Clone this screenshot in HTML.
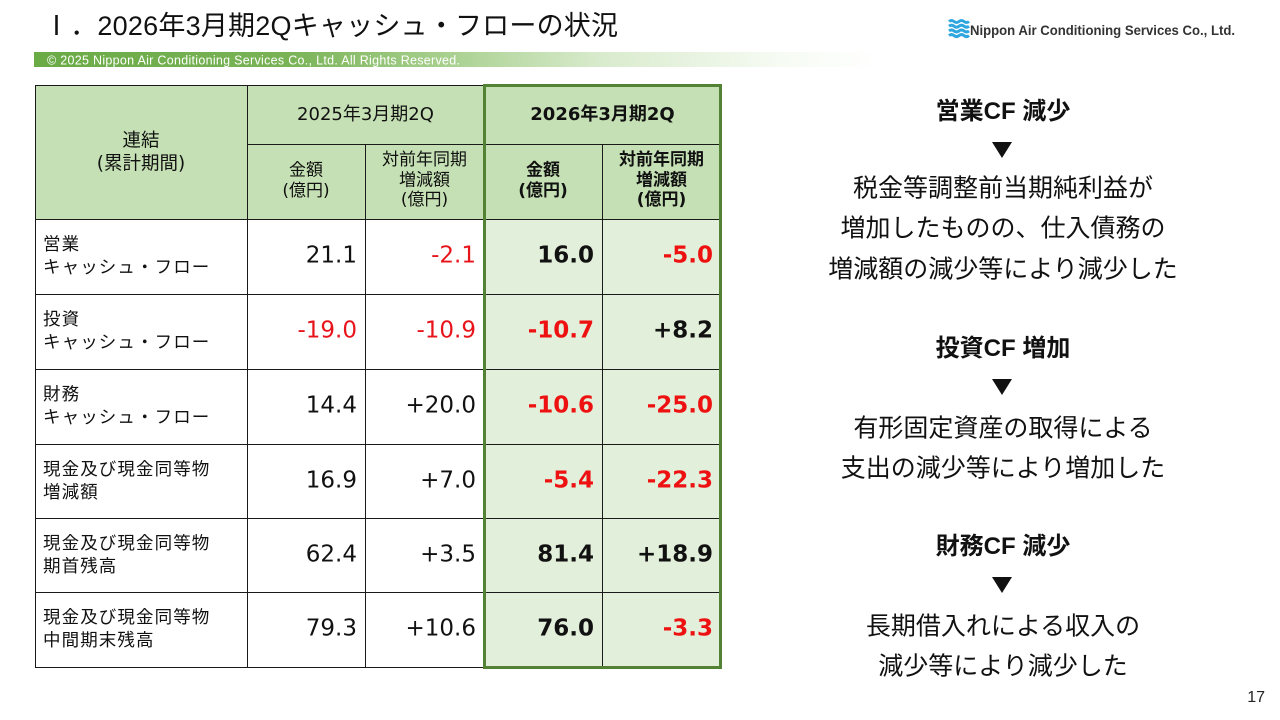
<!DOCTYPE html>
<html>
<head>
<meta charset="utf-8">
<style>
  html, body { margin:0; padding:0; background:#fff; }
  svg { display:block; }
  .jp { font-family: "Liberation Sans", "Noto Sans CJK JP", sans-serif; }
  .num { font-family: "DejaVu Sans", "Liberation Sans", sans-serif; font-size:23px; }
  .hd { font-family: "DejaVu Sans", "Noto Sans CJK JP", sans-serif; font-size:17px; }
</style>
</head>
<body>
<svg width="1280" height="720" viewBox="0 0 1280 720" xmlns="http://www.w3.org/2000/svg">
  <defs>
    <linearGradient id="bar" x1="34" y1="0" x2="880" y2="0" gradientUnits="userSpaceOnUse">
      <stop offset="0" stop-color="#6aab46"/>
      <stop offset="0.30" stop-color="#79b356"/>
      <stop offset="0.48" stop-color="#a6cf8c"/>
      <stop offset="0.67" stop-color="#d9ebcd"/>
      <stop offset="0.88" stop-color="#f6fbf3"/>
      <stop offset="1" stop-color="#ffffff"/>
    </linearGradient>
  </defs>

  <!-- Title -->
  <text x="43" y="35" font-size="27" fill="#111" class="jp" textLength="575"><tspan font-family="'Noto Sans CJK JP', sans-serif">Ⅰ．</tspan>2026年3月期2Qキャッシュ・フローの状況</text>

  <!-- Copyright bar -->
  <rect x="34" y="52" width="846" height="15" fill="url(#bar)"/>
  <text x="47" y="64.5" font-family="'Liberation Sans', sans-serif" font-size="12.5" fill="#ffffff" textLength="413">© 2025 Nippon Air Conditioning Services Co., Ltd. All Rights Reserved.</text>

  <!-- Logo -->
  <g fill="none" stroke="#2ea6df" stroke-width="3">
    <path d="M949,21.5 q2.5,-2 5,0 t5,0 t5,0 t5,0"/>
    <path d="M949,26.2 q2.5,-2 5,0 t5,0 t5,0 t5,0"/>
    <path d="M949,30.9 q2.5,-2 5,0 t5,0 t5,0 t5,0"/>
    <path d="M949,35.6 q2.5,-2 5,0 t5,0 t5,0 t5,0"/>
  </g>
  <text x="970" y="35" font-family="'Liberation Sans', sans-serif" font-weight="bold" font-size="14" fill="#333" textLength="265" lengthAdjust="spacingAndGlyphs">Nippon Air Conditioning Services Co., Ltd.</text>

  <!-- Table fills -->
  <rect x="35" y="85" width="686" height="134" fill="#c5e0b4"/>
  <rect x="484" y="219" width="237" height="448" fill="#e2efda"/>

  <!-- Table lines -->
  <g stroke="#1a1a1a" stroke-width="1">
    <line x1="35" y1="85.5" x2="484" y2="85.5"/>
    <line x1="247" y1="144.5" x2="721" y2="144.5"/>
    <line x1="35" y1="219.5" x2="721" y2="219.5"/>
    <line x1="35" y1="294.5" x2="721" y2="294.5"/>
    <line x1="35" y1="369.5" x2="721" y2="369.5"/>
    <line x1="35" y1="444.5" x2="721" y2="444.5"/>
    <line x1="35" y1="518.5" x2="721" y2="518.5"/>
    <line x1="35" y1="592.5" x2="721" y2="592.5"/>
    <line x1="35" y1="667.5" x2="721" y2="667.5"/>
    <line x1="35.5" y1="85" x2="35.5" y2="668"/>
    <line x1="247.5" y1="85" x2="247.5" y2="668"/>
    <line x1="365.5" y1="144" x2="365.5" y2="668"/>
    <line x1="602.5" y1="144" x2="602.5" y2="668"/>
  </g>
  <rect x="484.5" y="85.5" width="236" height="582" fill="none" stroke="#548235" stroke-width="3"/>

  <!-- Header text -->
  <g class="hd" fill="#111" text-anchor="middle">
    <text x="141" y="146.5" font-size="18.5">連結</text>
    <text x="141" y="169.5" font-size="18.5">(累計期間)</text>
    <text x="365.5" y="120" font-size="18">2025年3月期2Q</text>
    <text x="306" y="175.5">金額</text>
    <text x="306" y="196">(億円)</text>
    <text x="424.5" y="165">対前年同期</text>
    <text x="424.5" y="185.5">増減額</text>
    <text x="424.5" y="205">(億円)</text>
  </g>
  <g class="hd" fill="#111" text-anchor="middle" font-weight="bold">
    <text x="602.5" y="120" font-size="18">2026年3月期2Q</text>
    <text x="543" y="175.5">金額</text>
    <text x="543" y="196">(億円)</text>
    <text x="661.5" y="165">対前年同期</text>
    <text x="661.5" y="185.5">増減額</text>
    <text x="661.5" y="205">(億円)</text>
  </g>

  <!-- Row labels -->
  <g class="jp" font-size="17.5" fill="#111" letter-spacing="1.1">
    <text x="43" y="250">営業</text>
    <text x="43" y="273">キャッシュ・フロー</text>
    <text x="43" y="325">投資</text>
    <text x="43" y="348">キャッシュ・フロー</text>
    <text x="43" y="400">財務</text>
    <text x="43" y="423">キャッシュ・フロー</text>
    <text x="43" y="475">現金及び現金同等物</text>
    <text x="43" y="498">増減額</text>
    <text x="43" y="549">現金及び現金同等物</text>
    <text x="43" y="572">期首残高</text>
    <text x="43" y="623">現金及び現金同等物</text>
    <text x="43" y="646">中間期末残高</text>
  </g>

  <!-- Numbers: 2025 columns -->
  <g class="num" text-anchor="end">
    <text x="357" y="262.5" fill="#111">21.1</text>
    <text x="476" y="262.5" fill="#e8141c">-2.1</text>
    <text x="357" y="337.5" fill="#e8141c">-19.0</text>
    <text x="476" y="337.5" fill="#e8141c">-10.9</text>
    <text x="357" y="412.5" fill="#111">14.4</text>
    <text x="476" y="412.5" fill="#111">+20.0</text>
    <text x="357" y="487.5" fill="#111">16.9</text>
    <text x="476" y="487.5" fill="#111">+7.0</text>
    <text x="357" y="561.5" fill="#111">62.4</text>
    <text x="476" y="561.5" fill="#111">+3.5</text>
    <text x="357" y="635.5" fill="#111">79.3</text>
    <text x="476" y="635.5" fill="#111">+10.6</text>
  </g>
  <!-- Numbers: 2026 columns (bold) -->
  <g class="num" text-anchor="end" font-weight="bold">
    <text x="594" y="262.5" fill="#111">16.0</text>
    <text x="713" y="262.5" fill="#ee1111">-5.0</text>
    <text x="594" y="337.5" fill="#ee1111">-10.7</text>
    <text x="713" y="337.5" fill="#111">+8.2</text>
    <text x="594" y="412.5" fill="#ee1111">-10.6</text>
    <text x="713" y="412.5" fill="#ee1111">-25.0</text>
    <text x="594" y="487.5" fill="#ee1111">-5.4</text>
    <text x="713" y="487.5" fill="#ee1111">-22.3</text>
    <text x="594" y="561.5" fill="#111">81.4</text>
    <text x="713" y="561.5" fill="#111">+18.9</text>
    <text x="594" y="635.5" fill="#111">76.0</text>
    <text x="713" y="635.5" fill="#ee1111">-3.3</text>
  </g>

  <!-- Right side commentary -->
  <g class="jp" fill="#111" text-anchor="middle">
    <text x="1003" y="119" font-size="24" font-weight="bold">営業CF 減少</text>
    <text x="1003" y="196.5" font-size="25">税金等調整前当期純利益が</text>
    <text x="1003" y="236.5" font-size="25">増加したものの、仕入債務の</text>
    <text x="1003" y="277.5" font-size="25">増減額の減少等により減少した</text>

    <text x="1003" y="356" font-size="24" font-weight="bold">投資CF 増加</text>
    <text x="1003" y="436.5" font-size="25">有形固定資産の取得による</text>
    <text x="1003" y="476.5" font-size="25">支出の減少等により増加した</text>

    <text x="1003" y="554" font-size="24" font-weight="bold">財務CF 減少</text>
    <text x="1003" y="634.5" font-size="25">長期借入れによる収入の</text>
    <text x="1003" y="674.5" font-size="25">減少等により減少した</text>
  </g>
  <g fill="#111">
    <polygon points="992,142 1012,142 1002,158"/>
    <polygon points="992,379 1012,379 1002,395"/>
    <polygon points="992,577 1012,577 1002,593"/>
  </g>

  <!-- Page number -->
  <text x="1265" y="702" font-family="'Liberation Sans', sans-serif" font-size="16" fill="#222" text-anchor="end">17</text>
</svg>
</body>
</html>
